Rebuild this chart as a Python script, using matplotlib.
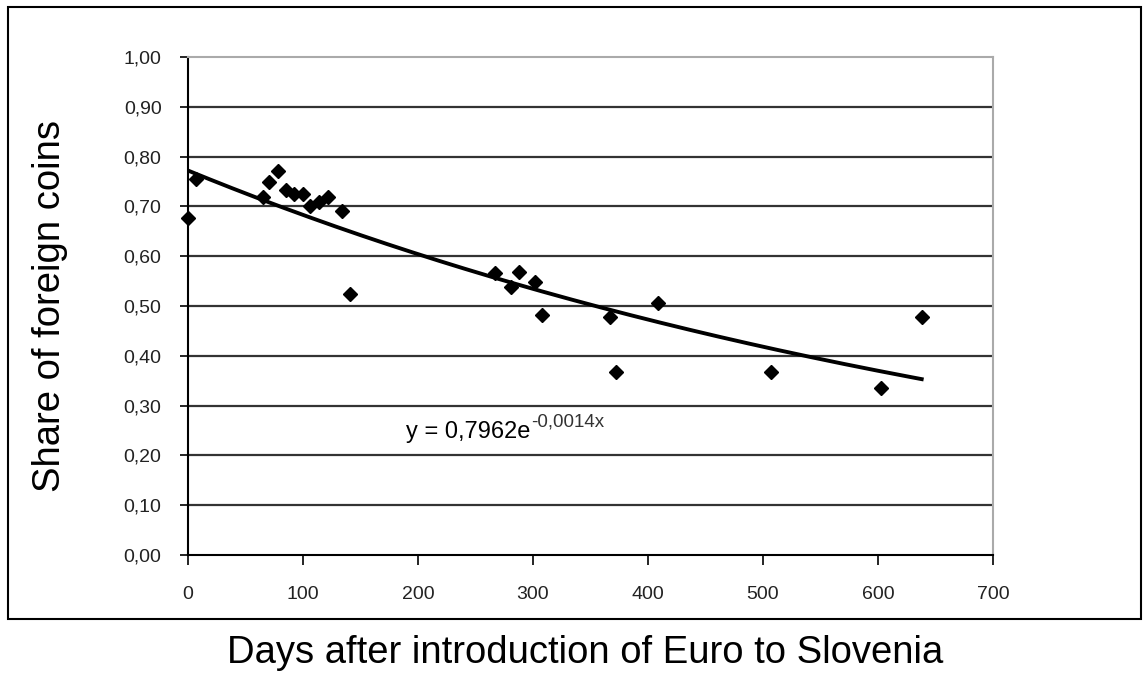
import matplotlib.pyplot as plt
import matplotlib.patches as mpatches
import numpy as np

# data
days = [0, 7, 65, 70, 78, 85, 92, 100, 106, 114, 122, 134, 141,
        267, 281, 288, 302, 308, 367, 372, 409, 507, 603, 638]
share = [0.677, 0.755, 0.718, 0.748, 0.772, 0.733, 0.724, 0.724, 0.700, 0.709, 0.718, 0.690, 0.524,
         0.566, 0.539, 0.569, 0.549, 0.482, 0.477, 0.368, 0.507, 0.367, 0.335, 0.477]

# exponential trend line as drawn
trend_a = 0.772
trend_b = -0.001226
trend_end = 638
trend_main = 'y = 0,7962e'
trend_exp = '-0,0014x'

y_ticks = np.arange(0, 1.01, 0.1)
x_ticks = np.arange(0, 701, 100)

plt.rcParams['font.family'] = ['Liberation Sans', 'DejaVu Sans']

fig = plt.figure(figsize=(11.44, 6.75), dpi=100)
ax = fig.add_axes([188 / 1144, 1 - 555 / 675, (993 - 188) / 1144, (555 - 57) / 675])

# grid lines
for yv in y_ticks[1:-1]:
    ax.axhline(yv, color='#333333', lw=1.6, zorder=1)

x_fit = np.linspace(0, trend_end, 200)
ax.plot(x_fit, trend_a * np.exp(trend_b * x_fit), color='black', lw=2.8, zorder=3)
ax.plot(days, share, linestyle='none', marker='D', ms=7, color='black', clip_on=False, zorder=4)

eq = ax.text(190, 0.247, trend_main, fontsize=17, va='center', ha='left')
ax.annotate(trend_exp, xy=(1, 0.55), xycoords=eq, fontsize=13.5, color='#333333',
            va='bottom', ha='left', xytext=(0, 0), textcoords='offset points')

ax.set_xlim(0, 700)
ax.set_ylim(0, 1)
ax.set_xticks(x_ticks)
ax.set_yticks(y_ticks)
ax.set_xticklabels([str(v) for v in x_ticks], fontsize=14, color='#222222')
ax.set_yticklabels([f'{v:.2f}'.replace('.', ',') for v in y_ticks], fontsize=14, color='#222222')
ax.tick_params(axis='y', direction='out', length=6, width=1.2, pad=13)
ax.tick_params(axis='x', direction='out', length=7, width=1.2, pad=15)
ax.spines['left'].set_linewidth(1.5)
ax.spines['bottom'].set_linewidth(1.5)
ax.spines['top'].set_color('#aaaaaa')
ax.spines['right'].set_color('#aaaaaa')
ax.spines['top'].set_linewidth(1.5)
ax.spines['right'].set_linewidth(1.5)

# outer frame
fig.patches.append(mpatches.Rectangle((8 / 1144, 1 - 619 / 675), (1141 - 8) / 1144, (619 - 7) / 675,
                                      transform=fig.transFigure, fill=False, edgecolor='black', lw=1.5))

fig.text(50 / 1144, 1 - 306 / 675, 'Share of foreign coins', rotation=90, fontsize=27.5, ha='center', va='center')
fig.text(585 / 1144, 1 - 653 / 675, 'Days after introduction of Euro to Slovenia', fontsize=27.5, ha='center', va='center')

plt.savefig('out.png', dpi=100)
